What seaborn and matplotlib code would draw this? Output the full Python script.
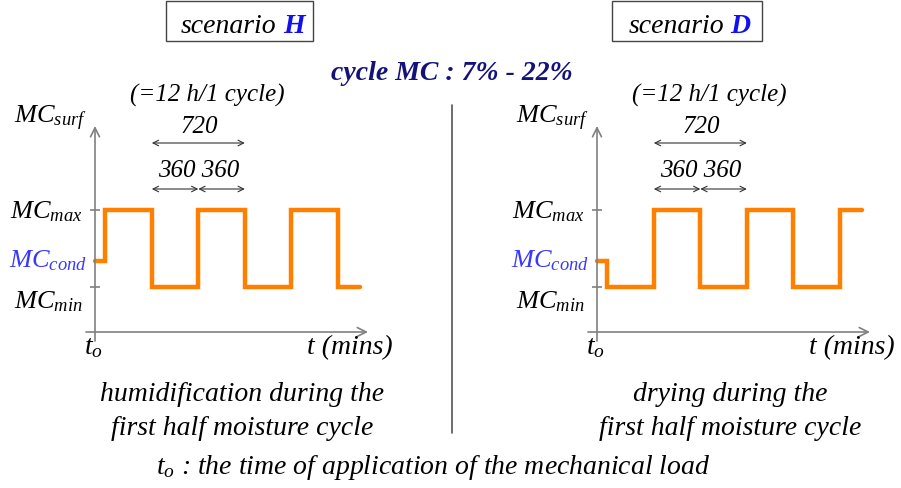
import matplotlib.pyplot as plt
import seaborn as sns
from matplotlib.patches import Rectangle
from matplotlib.lines import Line2D

sns.set_style("white")
plt.rcParams['font.family'] = ['Liberation Serif', 'DejaVu Serif']
plt.rcParams['font.style'] = 'italic'
plt.rcParams['text.color'] = 'black'
plt.rcParams['mathtext.fontset'] = 'custom'
plt.rcParams['mathtext.it'] = 'Liberation Serif:italic'
plt.rcParams['mathtext.rm'] = 'Liberation Serif:italic'

# --- data (time in mins, MC in %) ---
t_switch = [0, 80, 440, 800, 1160, 1520, 1880, 2050]
mc_H = [12, 22, 7, 22, 7, 22, 7, 7]      # humidification first
mc_D = [12, 7, 22, 7, 22, 7, 22, 22]     # drying first
mc_min, mc_cond, mc_max = 7, 12, 22
t_dim = [440, 800, 1160]                 # 360 + 360 = 720
scen_names = ["H", "D"]
captions = [["humidification during the", "first half moisture cycle"],
            ["drying during the", "first half moisture cycle"]]

W, H = 901, 489
ORANGE = "#ff7f00"
GRAY = "#808080"
NAVY = "#14127a"
BLUE = "#1010f0"
BLUE2 = "#3838ff"

fig = plt.figure(figsize=(W / 100, H / 100), dpi=100)


def px(x, y):
    return x / W, 1 - y / H


# pixel -> data scale (same for both panels)
min_per_px = 720 / 93.0
mc_per_px = 15 / 77.0
xlim = (-9 * min_per_px, 275 * min_per_px)
ylim = (7 - 54 * mc_per_px, 22 + 86 * mc_per_px)

panels = [(86, mc_H), (588, mc_D)]
for i, (x0, mc) in enumerate(panels):
    ax = fig.add_axes([x0 / W, 1 - 342 / H, 284 / W, 217 / H])
    ax.set_xlim(*xlim)
    ax.set_ylim(*ylim)
    ax.axis("off")

    sns.lineplot(x=t_switch, y=mc, drawstyle="steps-post", color=ORANGE,
                 lw=3.2, ax=ax, solid_joinstyle="miter")

    # axes with arrows
    y_top = 22 + 84 * mc_per_px
    x_axis_y = 7 - 45 * mc_per_px
    ax.annotate("", xy=(0, y_top), xytext=(0, ylim[0]),
                arrowprops=dict(arrowstyle="->", color=GRAY, lw=1.2,
                                shrinkA=0, shrinkB=0, mutation_scale=16))
    ax.annotate("", xy=(273 * min_per_px, x_axis_y), xytext=(xlim[0], x_axis_y),
                arrowprops=dict(arrowstyle="->", color=GRAY, lw=1.2,
                                shrinkA=0, shrinkB=0, mutation_scale=16))
    ax.hlines([mc_min, mc_max], -5 * min_per_px, 5 * min_per_px, color=GRAY, lw=1.2)

    # dimension arrows
    y720 = 22 + 67 * mc_per_px
    y360 = 22 + 21 * mc_per_px
    ax.annotate("", xy=(t_dim[2], y720), xytext=(t_dim[0], y720),
                arrowprops=dict(arrowstyle="<->", color="#333333", lw=0.8,
                                shrinkA=0, shrinkB=0, mutation_scale=10), annotation_clip=False)
    for a, b in zip(t_dim[:-1], t_dim[1:]):
        ax.annotate("", xy=(b, y360), xytext=(a, y360),
                    arrowprops=dict(arrowstyle="<->", color="#333333", lw=0.8,
                                    shrinkA=0, shrinkB=0, mutation_scale=10),
                    annotation_clip=False)

    # panel texts (pixel positions relative to the y axis)
    ox = x0 + 9
    fig.text(*px(ox + 112, 102), "(=12 h/1 cycle)", fontsize=18, ha="center", va="baseline")
    fig.text(*px(ox + 104, 133), "720", fontsize=18, ha="center", va="baseline")
    fig.text(*px(ox + 104, 177), "360 360", fontsize=18, ha="center", va="baseline")
    fig.text(*px(ox - 8, 123), r"$MC_{surf}$", fontsize=19, ha="right", va="baseline")
    fig.text(*px(ox - 12, 218), r"$MC_{max}$", fontsize=19, ha="right", va="baseline")
    fig.text(*px(ox - 8, 267), r"$MC_{cond}$", fontsize=19, ha="right", va="baseline",
             color=BLUE2)
    fig.text(*px(ox - 12, 308), r"$MC_{min}$", fontsize=19, ha="right", va="baseline")
    fig.text(*px(ox - 11, 354), r"$t_o$", fontsize=20, ha="left", va="baseline")
    fig.text(*px(ox + 212, 354), "t (mins)", fontsize=20, ha="left", va="baseline")

# scenario boxes
for name, (bx, bw, sx, nx) in zip(scen_names, [(166, 147, 276, 283), (612, 150, 724, 730)]):
    fig.add_artist(Rectangle(px(bx, 42), bw / W, 40 / H, fill=False, ec="#444444",
                             lw=1, transform=fig.transFigure))
    fig.text(*px(sx, 33), "scenario", fontsize=20, ha="right", va="baseline")
    fig.text(*px(nx, 33), name, fontsize=20, ha="left", va="baseline",
             color=BLUE, fontweight="bold")

fig.text(*px(452, 80), "cycle MC : 7% - 22%", fontsize=20, ha="center", va="baseline",
         color=NAVY, fontweight="bold")

# divider
fig.add_artist(Line2D([452 / W] * 2, [1 - 106 / H, 1 - 434 / H], color="#555555", lw=1.2))

# captions
for (c1, c2), cx in zip(captions, [242, 730]):
    fig.text(*px(cx, 401), c1, fontsize=20, ha="center", va="baseline")
    fig.text(*px(cx, 435), c2, fontsize=20, ha="center", va="baseline")

fig.text(*px(433, 474), r"$t_o$ : the time of application of the mechanical load",
         fontsize=20, ha="center", va="baseline")

fig.savefig("out.png", dpi=100)
